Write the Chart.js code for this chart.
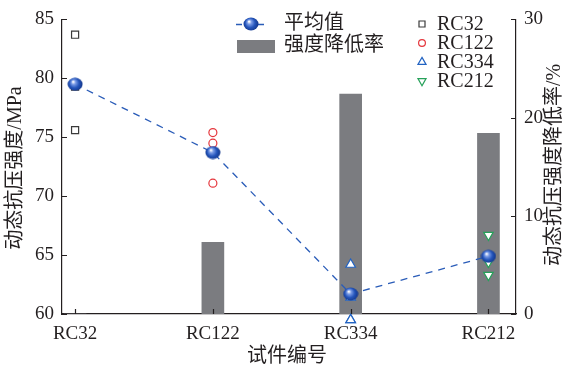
<!DOCTYPE html>
<html>
<head>
<meta charset="utf-8">
<script src="https://cdn.jsdelivr.net/npm/chart.js@4/dist/chart.umd.min.js"></script>
<style>
  html, body { margin: 0; padding: 0; background: #ffffff; }
  #wrap { width: 567px; height: 370px; }
</style>
</head>
<body>
<div id="wrap"><canvas id="c" width="567" height="370"></canvas></div>
<script>
// Specimen groups on the x axis
const categories = ['RC32', 'RC122', 'RC334', 'RC212'];
// Mean dynamic compressive strength (MPa)
const meanStrength = [79.5, 73.7, 61.7, 64.9];
// Strength reduction rate relative to RC32 (%)
const reductionRate = [0, 7.3, 22.4, 18.4];
// Individual specimen results (MPa)
const rc32 = [83.7, 79.3, 75.6];
const rc122 = [75.4, 74.5, 71.1];
const rc334 = [64.2, 61.4, 59.5];
const rc212 = [66.7, 64.4, 63.3];
// Axis tick values
const leftTicks = [60, 65, 70, 75, 80, 85];
const rightTicks = [0, 10, 20, 30];

const FONT = "'Liberation Serif', 'Times New Roman', Tinos, 'DejaVu Serif', 'Noto Sans CJK SC', serif";
const INK = '#231f20';
const BAR_GREY = '#7b7c80';

function makeSphere() {
  const c = document.createElement('canvas');
  c.width = 16; c.height = 14;
  const g = c.getContext('2d');
  const grad = g.createRadialGradient(6, 4.5, 0.4, 8, 7, 8.5);
  grad.addColorStop(0, '#ffffff');
  grad.addColorStop(0.22, '#7a9be6');
  grad.addColorStop(0.55, '#2455bb');
  grad.addColorStop(1, '#0e2d7c');
  g.fillStyle = grad;
  g.beginPath();
  g.ellipse(8, 7, 7.5, 6.5, 0, 0, Math.PI * 2);
  g.fill();
  return c;
}
const sphere = makeSphere();

const pts = (vals, i) => vals.map(v => ({ x: i, y: v }));

const markerSets = [
  { label: 'RC32', data: pts(rc32, 0), pointStyle: 'rect', pointRadius: 5, rotation: 0, color: '#3a3a3a' },
  { label: 'RC122', data: pts(rc122, 1), pointStyle: 'circle', pointRadius: 4, rotation: 0, color: '#e5363c' },
  { label: 'RC334', data: pts(rc334, 2), pointStyle: 'triangle', pointRadius: 5.5, rotation: 0, color: '#2263c2' },
  { label: 'RC212', data: pts(rc212, 3), pointStyle: 'triangle', pointRadius: 5.5, rotation: 180, color: '#27a15a' }
];

const datasets = [
  {
    type: 'line',
    label: '平均值',
    data: meanStrength.map((v, i) => ({ x: i, y: v })),
    yAxisID: 'y',
    borderColor: '#2a5cb8',
    borderWidth: 1.3,
    borderDash: [7, 6],
    tension: 0,
    pointStyle: sphere,
    pointRadius: 7,
    order: 0
  },
  ...markerSets.map(m => ({
    type: 'scatter',
    label: m.label,
    data: m.data,
    yAxisID: 'y',
    pointStyle: m.pointStyle,
    pointRadius: m.pointRadius,
    pointRotation: m.rotation,
    borderColor: m.color,
    backgroundColor: '#ffffff',
    pointBorderWidth: 1.2,
    clip: false,
    order: 1
  })),
  {
    type: 'bar',
    label: '强度降低率',
    data: reductionRate.map((v, i) => ({ x: i, y: v })),
    yAxisID: 'y1',
    backgroundColor: BAR_GREY,
    borderWidth: 0,
    barThickness: 22,
    order: 2
  }
];

// Inward tick marks, axis titles and the two-column legend
const decorations = {
  id: 'decorations',
  afterDatasetsDraw(chart) {
    const { ctx, chartArea: a } = chart;
    // points lying just outside the plot area
    chart.data.datasets.forEach((ds, di) => {
      if (ds.type !== 'scatter') return;
      const meta = chart.getDatasetMeta(di);
      meta.data.forEach(el => {
        if (el.y > a.bottom + el.options.radius / 2) {
          ctx.save();
          ctx.strokeStyle = el.options.borderColor;
          ctx.fillStyle = el.options.backgroundColor;
          ctx.lineWidth = el.options.borderWidth;
          Chart.helpers.drawPoint(ctx, el.options, el.x, el.y);
          ctx.restore();
        }
      });
    });
  },
  afterDraw(chart) {
    const { ctx, chartArea: a, scales } = chart;
    ctx.save();
    ctx.strokeStyle = INK;
    ctx.lineWidth = 1.2;
    ctx.beginPath();
    const tl = 5;
    categories.forEach((c, i) => {
      const x = Math.round(scales.x.getPixelForValue(i)) + 0.5;
      ctx.moveTo(x, a.bottom); ctx.lineTo(x, a.bottom - tl);
    });
    leftTicks.forEach(v => {
      const y = Math.round(scales.y.getPixelForValue(v)) + 0.5;
      ctx.moveTo(a.left, y); ctx.lineTo(a.left + tl, y);
    });
    rightTicks.forEach(v => {
      const y = Math.round(scales.y1.getPixelForValue(v)) + 0.5;
      ctx.moveTo(a.right, y); ctx.lineTo(a.right - tl, y);
    });
    ctx.stroke();

    // axis titles
    ctx.fillStyle = INK;
    ctx.textAlign = 'center';
    ctx.textBaseline = 'middle';
    ctx.font = '20px ' + FONT;
    ctx.fillText('试件编号', (a.left + a.right) / 2 - 2, 357);
    ctx.save();
    ctx.translate(16, 168);
    ctx.rotate(-Math.PI / 2);
    ctx.fillText('动态抗压强度/MPa', 0, 0);
    ctx.restore();
    ctx.save();
    ctx.translate(555, 165);
    ctx.rotate(-Math.PI / 2);
    ctx.fillText('动态抗压强度降低率/%', 0, 0);
    ctx.restore();

    // legend, first column
    const meanDs = chart.data.datasets[0];
    ctx.textAlign = 'left';
    ctx.strokeStyle = meanDs.borderColor;
    ctx.lineWidth = meanDs.borderWidth;
    ctx.setLineDash([6, 5]);
    ctx.beginPath();
    ctx.moveTo(236, 24.5); ctx.lineTo(268, 24.5);
    ctx.stroke();
    ctx.setLineDash([]);
    ctx.drawImage(sphere, 251 - 8, 24 - 7);
    ctx.fillStyle = INK;
    ctx.font = '20px ' + FONT;
    ctx.fillText('平均值', 284, 24);
    ctx.fillStyle = BAR_GREY;
    ctx.fillRect(237, 40, 38, 13);
    ctx.fillStyle = INK;
    ctx.fillText('强度降低率', 284, 46);

    // legend, second column
    markerSets.forEach((m, i) => {
      const y = 24 + i * 19;
      ctx.strokeStyle = m.color;
      ctx.fillStyle = '#ffffff';
      ctx.lineWidth = 1.2;
      Chart.helpers.drawPoint(ctx, { pointStyle: m.pointStyle, radius: m.pointRadius * 0.85, rotation: m.rotation, borderWidth: 1.2 }, 422, y);
      ctx.fillStyle = INK;
      ctx.font = '20px ' + FONT;
      ctx.fillText(m.label, 437, y + 1);
    });
    ctx.restore();
  }
};

new Chart(document.getElementById('c'), {
  type: 'bar',
  data: { datasets },
  plugins: [decorations],
  options: {
    responsive: false,
    animation: false,
    devicePixelRatio: 1,
    layout: { padding: { top: 13, left: 0, right: 0, bottom: 0 } },
    plugins: { legend: { display: false }, tooltip: { enabled: false } },
    scales: {
      x: {
        type: 'linear',
        min: -0.095,
        max: 3.2,
        offset: false,
        afterBuildTicks: s => { s.ticks = categories.map((c, i) => ({ value: i })); },
        afterFit: s => { s.height = 56; },
        grid: { display: false, drawTicks: false, offset: false },
        border: { display: true, color: INK, width: 1.2 },
        ticks: {
          autoSkip: false,
          maxRotation: 0,
          padding: 9,
          color: INK,
          font: { family: FONT, size: 19 },
          callback: v => categories[v]
        }
      },
      y: {
        position: 'left',
        min: 60,
        max: 85,
        afterBuildTicks: s => { s.ticks = leftTicks.map(v => ({ value: v })); },
        afterFit: s => { s.width = 62; },
        grid: { display: false, drawTicks: false },
        border: { display: true, color: INK, width: 1.2 },
        ticks: { padding: 8, color: INK, font: { family: FONT, size: 19 } }
      },
      y1: {
        position: 'right',
        min: 0,
        max: 30,
        afterBuildTicks: s => { s.ticks = rightTicks.map(v => ({ value: v })); },
        afterFit: s => { s.width = 51; },
        grid: { display: false, drawTicks: false },
        border: { display: true, color: INK, width: 1.2 },
        ticks: { padding: 8, color: INK, font: { family: FONT, size: 19 } }
      }
    }
  }
});
</script>
</body>
</html>
